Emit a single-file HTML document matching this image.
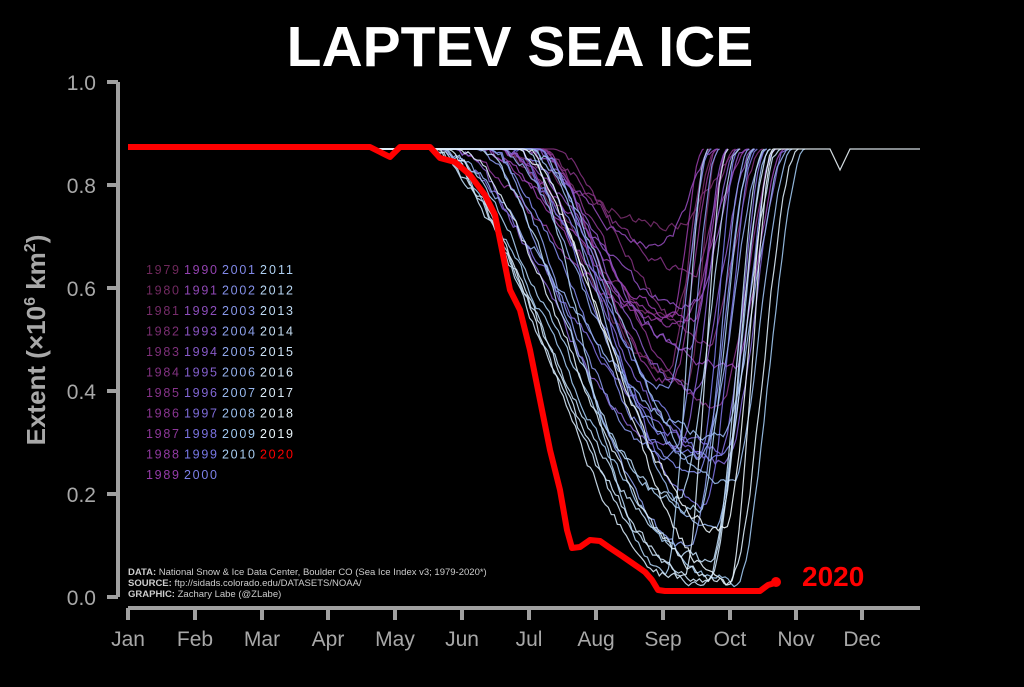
<!DOCTYPE html>
<html><head><meta charset="utf-8"><style>
html,body{margin:0;padding:0;background:#000;}
body{width:1024px;height:682px;overflow:hidden;}
svg text{font-family:"Liberation Sans",sans-serif;}
</style></head><body>
<svg id="s" width="1024" height="682" viewBox="0 0 1024 682" xmlns="http://www.w3.org/2000/svg">
<rect width="1024" height="682" fill="#000"/>
<text x="520" y="66" text-anchor="middle" font-size="57" font-weight="bold" fill="#fff">LAPTEV SEA ICE</text>
<g stroke="#a0a0a0" stroke-width="4" fill="none">
<path d="M118 82V597"/>
<path d="M107 82H118M107 185H118M107 288H118M107 391H118M107 494H118M107 597H118"/>
<path d="M128 608H920"/>
<path d="M128 608V620M195 608V620M262 608V620M328 608V620M395 608V620M462 608V620M529 608V620M596 608V620M663 608V620M730 608V620M796 608V620M862 608V620"/>
</g>
<g fill="#a8a8a8" font-size="21" text-anchor="end">
<text x="96" y="90">1.0</text><text x="96" y="193">0.8</text><text x="96" y="296">0.6</text><text x="96" y="399">0.4</text><text x="96" y="502">0.2</text><text x="96" y="605">0.0</text>
</g>
<g fill="#a8a8a8" font-size="21" text-anchor="middle">
<text x="128" y="646">Jan</text><text x="195" y="646">Feb</text><text x="262" y="646">Mar</text><text x="328" y="646">Apr</text><text x="395" y="646">May</text><text x="462" y="646">Jun</text><text x="529" y="646">Jul</text><text x="596" y="646">Aug</text><text x="663" y="646">Sep</text><text x="730" y="646">Oct</text><text x="796" y="646">Nov</text><text x="862" y="646">Dec</text>
</g>
<text transform="translate(45,340) rotate(-90)" text-anchor="middle" font-size="26" font-weight="bold" fill="#a8a8a8">Extent (×10<tspan font-size="16" dy="-10">6</tspan><tspan dy="10"> km</tspan><tspan font-size="16" dy="-10">2</tspan><tspan dy="10">)</tspan></text>
<g id="lines" fill="none" stroke-width="1.2"></g>
<path d="M128 147H370L380 152L390 157L400 147H430L440 158L455 162L470 175L485 195L495 215L502 250L510 290L520 310L530 350L540 400L550 450L560 490L567 530L572 548L580 547L590 540L600 541L610 548L622 556L635 565L645 572L652 580L658 590L665 591H760L768 585L775 583" stroke="#ff0000" stroke-width="6" fill="none" stroke-linejoin="round"/>
<circle cx="776" cy="582" r="5" fill="#ff0000"/>
<text x="802" y="586" font-size="28" font-weight="bold" fill="#ff0000">2020</text>
<g font-size="9.5" fill="#ccc">
<text x="128" y="575"><tspan font-weight="bold">DATA:</tspan> National Snow &amp; Ice Data Center, Boulder CO (Sea Ice Index v3; 1979-2020*)</text>
<text x="128" y="586"><tspan font-weight="bold">SOURCE:</tspan> ftp://sidads.colorado.edu/DATASETS/NOAA/</text>
<text x="128" y="597"><tspan font-weight="bold">GRAPHIC:</tspan> Zachary Labe (@ZLabe)</text>
</g>
<g id="leg" font-size="12.5"></g>
</svg>
<script>
(function(){
var seed=11;function r(){seed=(seed*16807)%2147483647;return (seed-1)/2147483646;}
function col(i){
 var t=i/40;
 var stops=[[0.0,[110,40,90]],[0.25,[150,60,170]],[0.5,[120,120,230]],[0.75,[160,200,240]],[1,[235,245,250]]];
 for(var k=1;k<stops.length;k++){if(t<=stops[k][0]){var a=stops[k-1],b=stops[k],u=(t-a[0])/(b[0]-a[0]);
 return 'rgb('+[0,1,2].map(function(j){return Math.round(a[1][j]+(b[1][j]-a[1][j])*u)}).join(',')+')';}}
}
var g=document.getElementById('lines'),ns='http://www.w3.org/2000/svg';
var top=149,y0=597;
for(var i=0;i<41;i++){
 var late=i/40;
 var minv=Math.max(0.03,0.6-late*0.55+(r()-0.5)*0.35);
 if(i==12)minv=0.68;
 var ymin=y0-minv*515;
 var s=450+r()*110-late*30;
 var m=665+r()*70;
 var e=Math.min(805,m+30+r()*40+late*10);
 if(i==12){s=520;m=660;e=718;}
 var d='M128 '+top+'H'+s.toFixed(1);
 var n=0;
 for(var x=s;x<=e;x+=3){
  var y;
  if(x<m){var u=(x-s)/(m-s);y=top+(ymin-top)*(0.5-0.5*Math.cos(Math.PI*Math.pow(u,0.85)));}
  else{var u=(x-m)/(e-m);y=ymin+(top-ymin)*(0.5-0.5*Math.cos(Math.PI*u));}
  n=0.6*n+(r()-0.5)*9;
  var nn=(x>s+6&&x<e-6)?n:0;
  d+='L'+x.toFixed(1)+' '+Math.max(top,Math.min(594,y+nn)).toFixed(1);
 }
 d+='L'+e.toFixed(1)+' '+top;
 if(i==40){d+='H830L840 170L850 '+top+'H920';}
 var p=document.createElementNS(ns,'path');p.setAttribute('d',d);p.setAttribute('stroke',col(i));
 p.setAttribute('stroke-opacity',0.9);g.appendChild(p);
}
var lg=document.getElementById('leg');
var yrs=1979,cols=[146,184,222,260];
for(var c=0;c<4;c++){var n=(c<2)?11:10;for(var k=0;k<n;k++){
 var yr=yrs++;var t=document.createElementNS(ns,'text');
 t.setAttribute('x',cols[c]);t.setAttribute('y',274+k*20.5);
 t.setAttribute('fill',yr==2020?'#ff0000':col(yr-1979));
 t.setAttribute('textLength','33');
 t.textContent=yr;lg.appendChild(t);}}
})();
</script>
</body></html>
